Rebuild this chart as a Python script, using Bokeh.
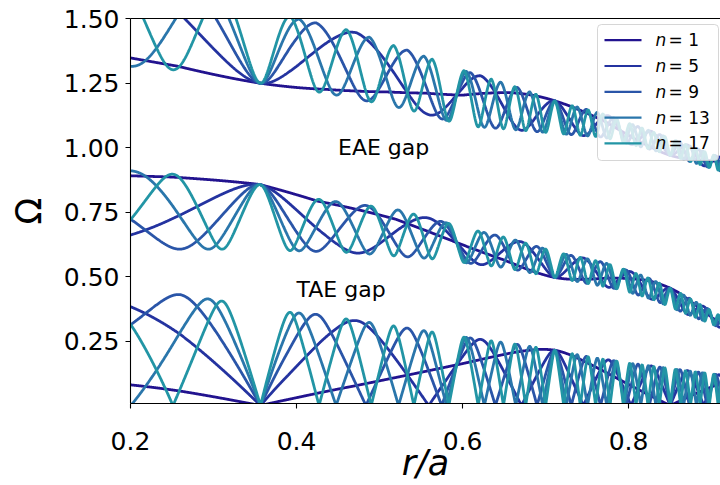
import numpy as np
from bokeh.plotting import figure
from bokeh.models import (Range1d, LinearAxis, FixedTicker, PrintfTickFormatter,
                          Label, BoxAnnotation, Arrow)
from bokeh.core.properties import value
from bokeh.embed import file_html
from bokeh.resources import INLINE

# ---------------- data ----------------
n_values = [1, 5, 9, 13, 17]
line_colors = ["#22138f", "#2433a0", "#2a55a8", "#2a76ab", "#2295a5"]

# safety factor q(r): reversed shear, q_min = 1 at r/a = 0.3566
q_left_r = [0.200, 0.252, 0.258, 0.294, 0.310, 0.3566]
q_left = [1.077, 1.0588, 1.0556, 1.0385, 1.0294, 1.000]
q_right_r = [0.3566, 0.389, 0.408, 0.430, 0.452, 0.470, 0.5205, 0.538, 0.5566,
             0.575, 0.595, 0.712, 0.790, 0.850]
q_right = [1.000, 1.0294, 1.0385, 1.0556, 1.0769, 1.100, 1.1538, 1.1765, 1.200,
           1.2222, 1.250, 1.500, 1.750, 2.000]

# gap edges (Omega) read along r/a
tae_lo_r = [0.20, 0.26, 0.31, 0.355, 0.39, 0.43, 0.47, 0.51, 0.55, 0.60, 0.66, 0.712, 0.75, 0.80, 0.86, 0.92]
tae_lo = [0.44, 0.43, 0.405, 0.385, 0.362, 0.352, 0.33, 0.312, 0.292, 0.266, 0.24, 0.214, 0.19, 0.165, 0.14, 0.115]
tae_hi_r = [0.20, 0.26, 0.31, 0.40, 0.46, 0.56, 0.60, 0.65, 0.712, 0.79, 0.83, 0.87, 0.92]
tae_hi = [0.61, 0.606, 0.606, 0.60, 0.594, 0.57, 0.555, 0.535, 0.496, 0.45, 0.41, 0.355, 0.29]
eae_lo_r = [0.20, 0.25, 0.355, 0.425, 0.52, 0.61, 0.66, 0.712, 0.77, 0.82, 0.86, 0.92]
eae_lo = [0.91, 0.897, 0.857, 0.80, 0.76, 0.683, 0.645, 0.595, 0.555, 0.50, 0.44, 0.33]
eae_hi_r = [0.20, 0.256, 0.355, 0.437, 0.51, 0.5566, 0.60, 0.66, 0.712, 0.77, 0.83, 0.92]
eae_hi = [1.315, 1.30, 1.25, 1.21, 1.165, 1.13, 1.085, 1.07, 1.055, 1.04, 0.99, 0.90]
top_r = [0.20, 0.30, 0.40, 0.463, 0.533, 0.557, 0.60, 0.66, 0.712, 0.77, 0.83, 0.92]
top = [1.75, 1.62, 1.50, 1.455, 1.378, 1.35, 1.30, 1.24, 1.18, 1.13, 1.06, 0.95]

ann_text = ["EAE gap", "TAE gap"]
ann_x = [0.45, 0.40]
ann_y = [1.00, 0.45]

x_ticks = [0.2, 0.4, 0.6, 0.8]
y_ticks = [0.25, 0.50, 0.75, 1.00, 1.25, 1.50]

# ---------------- continuum model ----------------
r = np.linspace(0.2, 0.92, 1801)
r0 = q_left_r[-1]


def q_profile(rr):
    sl = np.abs(np.array(q_left_r) - r0)
    cl = np.linalg.lstsq(np.c_[sl, sl ** 2], np.array(q_left) - 1.0, rcond=None)[0]
    sr = np.array(q_right_r) - r0
    cr = np.linalg.lstsq(np.c_[sr, sr ** 2, sr ** 3], np.array(q_right) - 1.0, rcond=None)[0]
    s = rr - r0
    return np.where(s < 0, 1.0 + cl[0] * np.abs(s) + cl[1] * s ** 2,
                    1.0 + cr[0] * s + cr[1] * s ** 2 + cr[2] * s ** 3)


js = np.arange(-3, 4)
eps1, eps2 = 0.35, 0.40
M = (np.eye(7) + eps1 * (np.eye(7, k=1) + np.eye(7, k=-1))
     + eps2 * (np.eye(7, k=2) + np.eye(7, k=-2)))
Li = np.linalg.inv(np.linalg.cholesky(M))


def branches(a):
    k2 = (a[:, None] - js[None, :]) ** 2
    A = np.einsum('ij,nj,kj->nik', Li, k2, Li)
    ev = np.linalg.eigvalsh(A)
    return np.sqrt(np.clip(ev, 0, None))


S_ref = branches(np.array([0.0, 0.5]))
qr = q_profile(r)
tl = np.interp(r, tae_lo_r, tae_lo)
th = np.interp(r, tae_hi_r, tae_hi)
el = np.interp(r, eae_lo_r, eae_lo)
eh = np.interp(r, eae_hi_r, eae_hi)
tt = np.interp(r, top_r, top)


def bands(n):
    x = n * qr
    a = np.abs(x - np.round(x))
    s = branches(a)
    b0 = tl * s[:, 0] / S_ref[1, 0]
    b1 = th + (el - th) * (s[:, 1] - S_ref[1, 1]) / (S_ref[0, 1] - S_ref[1, 1])
    b2 = eh + (tt - eh) * (s[:, 2] - S_ref[0, 2]) / (S_ref[1, 2] - S_ref[0, 2])
    return [b0, b1, b2]


# ---------------- figure ----------------
FONT = "DejaVu Sans"
p = figure(width=720, height=485, output_backend="svg", toolbar_location=None,
           x_range=Range1d(0.2, 0.9108), y_range=Range1d(0.008, 1.5),
           min_border_left=130, min_border_right=0, min_border_top=18, min_border_bottom=80,
           background_fill_color="white", border_fill_color="white")
p.outline_line_color = None
p.grid.visible = False

for n, c in zip(n_values, line_colors):
    for b in bands(n):
        p.line(r, b, line_color=c, line_width=2.8)

p.text(x=ann_x, y=ann_y, text=ann_text, text_font=value(FONT), text_font_size="22px",
       text_align="left", text_baseline="alphabetic", text_color="black")

for ax in (p.xaxis[0], p.yaxis[0]):
    ax.major_tick_out = 5
    ax.major_tick_in = 0
    ax.minor_tick_out = 0
    ax.minor_tick_in = 0
    ax.axis_line_color = "black"
    ax.axis_line_width = 1.1
    ax.major_tick_line_width = 1.1
    ax.major_label_text_font = FONT
    ax.major_label_text_font_size = "25px"
    ax.major_label_text_color = "black"
    ax.axis_label_text_font = FONT
    ax.axis_label_text_font_size = "35px"
    ax.axis_label_text_color = "black"

p.xaxis[0].ticker = FixedTicker(ticks=x_ticks)
p.xaxis[0].formatter = PrintfTickFormatter(format="%.1f")
p.xaxis[0].axis_label = "r/a"
p.xaxis[0].axis_label_text_font_style = "italic"
p.xaxis[0].major_label_standoff = 23
p.xaxis[0].axis_label_standoff = -10

p.yaxis[0].ticker = FixedTicker(ticks=y_ticks)
p.yaxis[0].formatter = PrintfTickFormatter(format="%.2f")
p.yaxis[0].axis_label = "Ω"
p.yaxis[0].axis_label_text_font_style = "normal"
p.yaxis[0].major_label_standoff = 6
p.yaxis[0].axis_label_standoff = 12

top_axis = LinearAxis(ticker=FixedTicker(ticks=[]), major_tick_out=0, major_tick_in=0,
                      minor_tick_out=0, minor_tick_in=0, axis_line_color="black",
                      axis_line_width=1.1, major_label_standoff=0)
p.add_layout(top_axis, "above")

# legend (screen units relative to the plot frame)
p.add_layout(BoxAnnotation(left=467, right=588, top=379, bottom=243,
                           left_units="screen", right_units="screen",
                           top_units="screen", bottom_units="screen",
                           fill_color="white", fill_alpha=0.8,
                           line_color="#cccccc", line_alpha=0.8, line_width=1,
                           border_radius=4))
for i, (n, c) in enumerate(zip(n_values, line_colors)):
    yy = 363.3 - i * 25.8
    p.add_layout(Arrow(end=None, x_start=474, y_start=yy, x_end=511, y_end=yy,
                       start_units="screen", end_units="screen",
                       line_color=c, line_width=2.2))
    p.add_layout(Label(x=525, y=yy, x_units="screen", y_units="screen", text="n",
                       text_font=FONT, text_font_size="17px", text_font_style="italic",
                       text_baseline="middle", text_align="left", text_color="black"))
    p.add_layout(Label(x=538, y=yy, x_units="screen", y_units="screen", text=f"= {n}",
                       text_font=FONT, text_font_size="17px",
                       text_baseline="middle", text_align="left", text_color="black"))

open("out.html", "w").write(file_html(p, INLINE))
